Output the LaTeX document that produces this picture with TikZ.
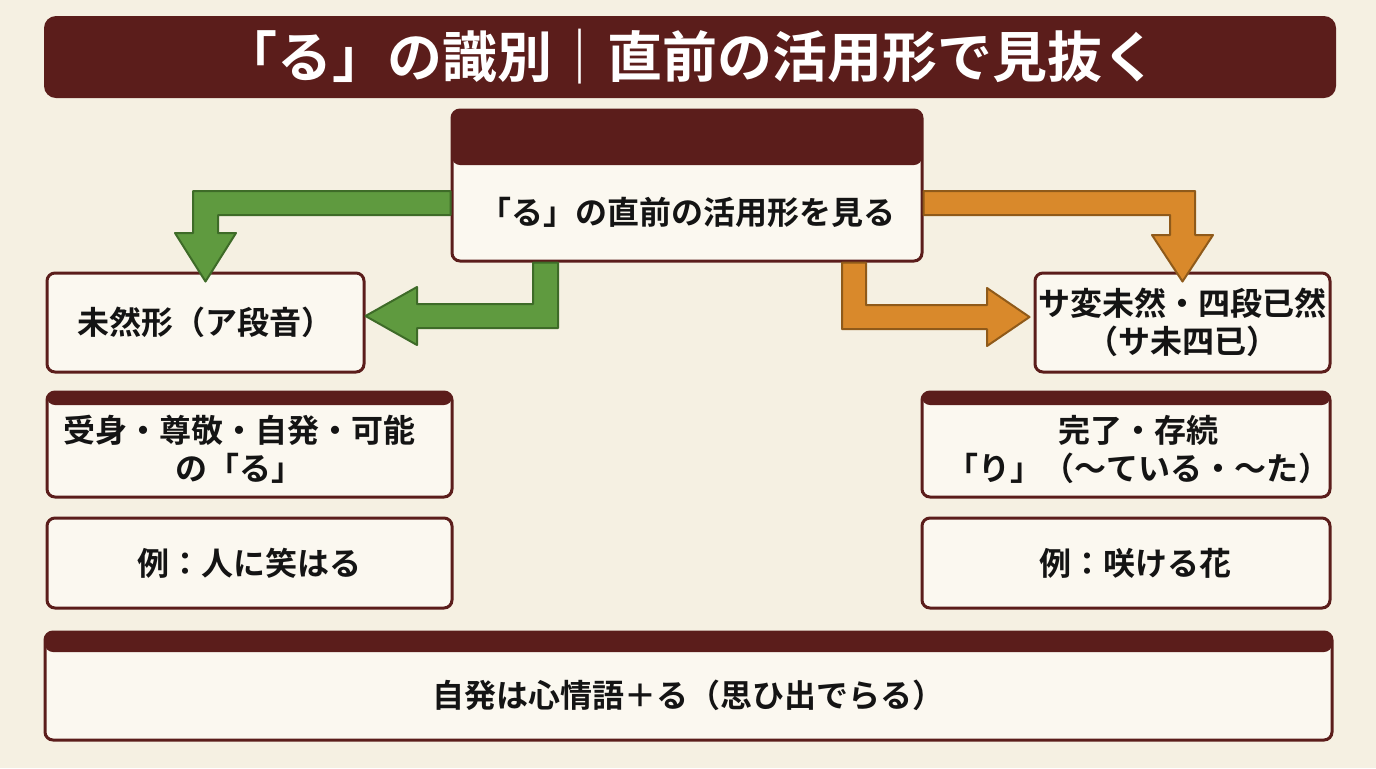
\documentclass[tikz,border=0pt]{standalone}
\usepackage{fontspec}
\setmainfont{Noto Sans CJK JP}[BoldFont={Noto Sans CJK JP Bold}]

\definecolor{paper}{HTML}{F5F0E2}
\definecolor{card}{HTML}{FBF8F0}
\definecolor{maroon}{HTML}{5B1D1B}
\definecolor{ink}{HTML}{141414}
\definecolor{leaf}{HTML}{5F9A3F}
\definecolor{leafdark}{HTML}{3E6B28}
\definecolor{amber}{HTML}{D9892B}
\definecolor{amberdark}{HTML}{8F5A1A}

\begin{document}
\begin{tikzpicture}[x=0.5pt,y=-0.5pt,
    box/.style={draw=maroon, line width=1.5pt, fill=card, rounded corners=4pt, inner sep=0pt},
    headbox/.style={box, path picture={\fill[maroon] ([yshift=2pt]path picture bounding box.north west) rectangle ([yshift=-#1]path picture bounding box.north east);}},
    txt/.style={font=\bfseries\fontsize{16}{19}\selectfont, align=center, text=ink},
    garrow/.style={fill=leaf, draw=leafdark, line width=1pt, line join=round},
    oarrow/.style={fill=amber, draw=amberdark, line width=1pt, line join=round}]
    % Paper background
    \fill[paper] (0,0) rectangle (1376,768);

    % Title bar
    \node[fill=maroon, rounded corners=6pt, minimum width=646pt, minimum height=41pt,
          text=white, font=\bfseries\fontsize{27.5}{31}\selectfont] (title) at (690,57)
          {「る」の識別｜直前の活用形で見抜く};

    % Starting box
    \node[headbox=27.5pt, minimum width=235pt, minimum height=75.5pt] (look) at (687,185.5) {};
    \node[txt] (lookT) at ([yshift=-13.25pt]look.center) {「る」の直前の活用形を見る};

    % Left branch
    \node[box, txt, minimum width=158.5pt, minimum height=49.5pt] (mizen) at (205.5,322.5) {未然形（ア段音）};
    \node[headbox=6.5pt, minimum width=202.5pt, minimum height=52.5pt] (ukemi) at (249.5,444.5) {};
    \node[txt] (ukemiT) at ([xshift=-5pt,yshift=-2.5pt]ukemi.center) {受身・尊敬・自発・可能\\の「る」};
    \node[box, txt, minimum width=202.5pt, minimum height=45pt] (reiL) at (249.5,563) {例：人に笑はる};

    % Right branch
    \node[box, txt, minimum width=147.5pt, minimum height=49.5pt] (savar) at (1182.5,322.5) {サ変未然・四段已然\\（サ未四已）};
    \node[headbox=6.5pt, minimum width=204pt, minimum height=52.5pt] (kanryo) at (1126,444.5) {};
    \node[txt] (kanryoT) at ([xshift=6pt,yshift=-2.5pt]kanryo.center) {完了・存続\\「り」（〜ている・〜た）};
    \node[box, txt, minimum width=204pt, minimum height=45pt] (reiR) at (1126,563) {\hspace*{9pt}例：咲ける花};

    % Bottom note
    \node[headbox=10pt, minimum width=643.5pt, minimum height=54pt] (note) at (688.5,686) {};
    \node[txt] (noteT) at ([yshift=-4.5pt]note.center) {自発は心情語＋る（思ひ出でらる）};

    % Green arrows to the left
    \draw[garrow] (look.west |- 0,191) -- (193,191) -- (193,233) -- (175,233)
        -- ([yshift=-5pt]mizen.north) -- (236,233) -- (218,233) -- (218,215)
        -- (look.west |- 0,215) -- cycle;
    \draw[garrow] (533,0 |- look.south) -- (533,304) -- (417,304) -- (417,287)
        -- (mizen.east |- 0,316) -- (417,345) -- (417,328) -- (558,328)
        -- (558,0 |- look.south) -- cycle;

    % Orange arrows to the right
    \draw[oarrow] (look.east |- 0,191) -- (1195,191) -- (1195,235) -- (1213,235)
        -- ([yshift=-5pt]savar.north) -- (1152,235) -- (1170,235) -- (1170,215)
        -- (look.east |- 0,215) -- cycle;
    \draw[oarrow] (842,0 |- look.south) -- (842,329) -- (987,329) -- (987,346)
        -- ([xshift=-2pt]savar.west |- 0,317) -- (987,288) -- (987,305) -- (866,305)
        -- (866,0 |- look.south) -- cycle;
\end{tikzpicture}
\end{document}
